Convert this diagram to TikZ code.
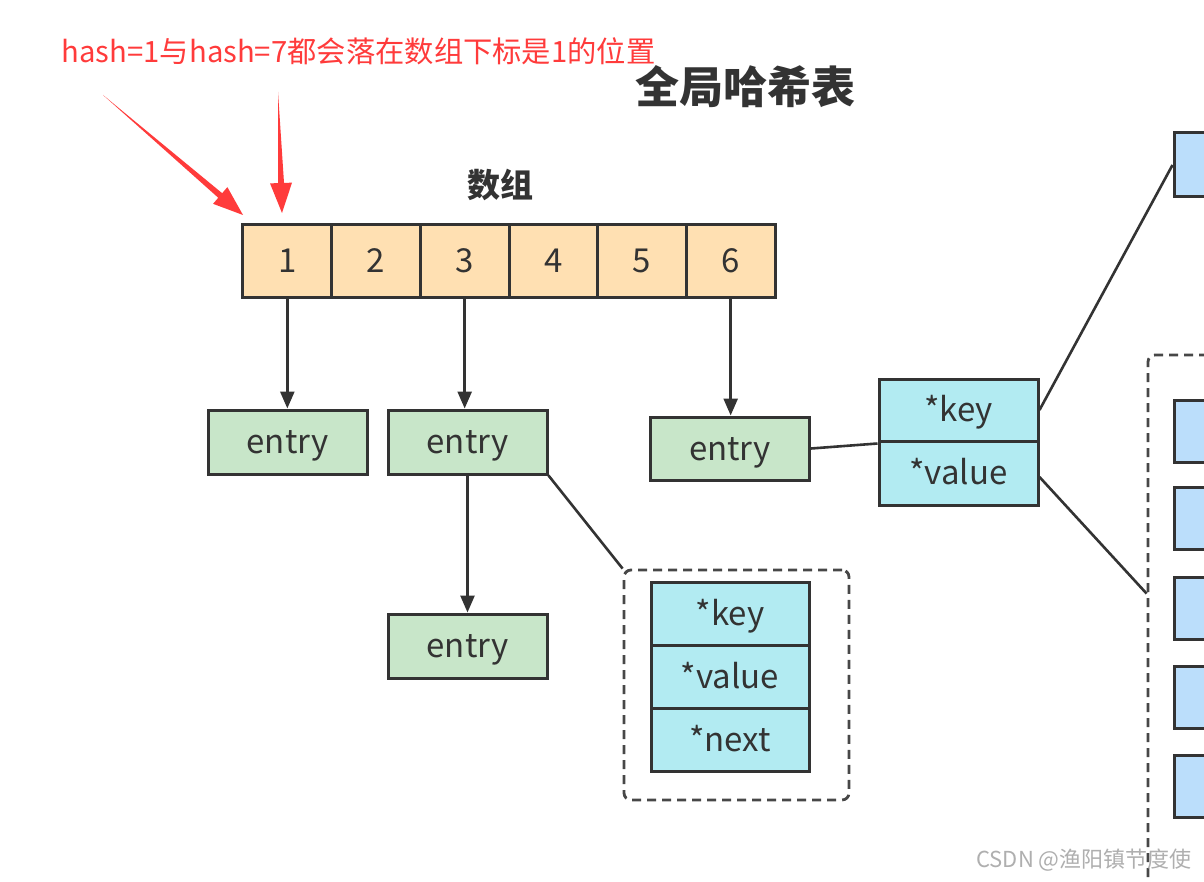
\documentclass[tikz,border=0pt]{standalone}
\usepackage{fontspec}
\setmainfont{Noto Sans CJK SC}
\usetikzlibrary{arrows.meta,calc}
\definecolor{peach}{RGB}{255,224,178}
\definecolor{mint}{RGB}{200,230,201}
\definecolor{cyanbox}{RGB}{178,235,242}
\definecolor{bluebox}{RGB}{187,222,251}
\definecolor{edge}{RGB}{51,51,51}
\definecolor{txt}{RGB}{51,51,51}
\definecolor{hred}{RGB}{255,59,59}
\definecolor{wm}{RGB}{175,175,175}
\tikzset{
  box/.style={draw=edge, line width=3pt, inner sep=0pt, text=txt, font=\fontsize{33}{38}\selectfont, text height=27pt, text depth=4pt},
  cell/.style={box, fill=peach, minimum width=88.67pt, minimum height=73pt},
  entrybox/.style={box, fill=mint, minimum width=159pt, minimum height=64pt},
  field/.style={box, fill=cyanbox, minimum width=158pt, minimum height=63pt},
  bluecell/.style={box, fill=bluebox, minimum width=66pt, minimum height=62pt},
  dashbox/.style={draw=edge!90, line width=2.8pt, dash pattern=on 9pt off 6pt, rounded corners=7pt, inner sep=0pt},
  conn/.style={draw=edge, line width=2.6pt},
  arr/.style={conn, -{Triangle[width=14pt,length=17pt]}},
}
\begin{document}
\begin{tikzpicture}[x=1pt,y=-1pt]
\useasboundingbox (0,0) rectangle (1204,882);
\fill[white] (0,0) rectangle (1204,882);
\clip (0,0) rectangle (1204,882);

% titles
\node[text=hred, font=\fontsize{29.3}{33}\selectfont] (note) at (358.5,51) {hash=1与hash=7都会落在数组下标是1的位置};
\node[text=txt, font=\fontsize{44}{50}\selectfont\bfseries] (title) at (745,87) {全局哈希表};
\node[text=txt, font=\fontsize{33}{38}\selectfont\bfseries] (arrlabel) at (500,185) {数组};

% array cells
\foreach \i/\x in {1/287.33,2/376,3/464.67,4/553.33,5/642,6/730.67}
  \node[cell] (c\i) at (\x,261.5) {\i};

% entries
\node[entrybox] (e1) at (287.5,442) {entry};
\node[entrybox] (e2) at (467.5,442) {entry};
\node[entrybox] (e3) at (467.5,646) {entry};
\node[entrybox, minimum height=63pt] (e4) at (730,448.5) {entry};

% dashed struct box
\node[dashbox, minimum width=225pt, minimum height=230pt] (d1) at (736.5,685) {};
\node[field] (k1) at (730,614) {*key};
\node[field] (v1) at (730,677) {*value};
\node[field] (n1) at (730,740) {*next};

% key-value box
\node[field, minimum width=159pt, minimum height=62pt] (k2) at (958.5,410) {*key};
\node[field, minimum width=159pt, minimum height=64pt] (v2) at (958.5,473) {*value};

% right side
\node[bluecell, minimum height=64pt] (top) at (1207,165) {};
\node[dashbox, minimum width=112pt, minimum height=565pt] (d2) at (1204,637.5) {};
\foreach \i/\y in {1/431,2/518.5,3/608.5,4/697.5,5/786.5}
  \node[bluecell] (r\i) at (1207,\y) {};

% connectors
\draw[arr] (c1.south) -- (c1.south |- e1.north);
\draw[arr] (c3.south) -- (c3.south |- e2.north);
\draw[arr] (c6.south) -- (c6.south |- e4.north);
\draw[arr] (e2.south) -- (e3.north);
\draw[conn] (e2.south east) -- (d1.north west);
\draw[conn] (e4.east) -- ([yshift=-4pt]v2.north west);
\draw[conn] (k2.east) -- (top.west);
\coordinate (d2in) at ($(d2.north west)+(0,240)$);
\draw[conn] ([yshift=-4pt]v2.east) -- (d2in);

% red arrows
\coordinate (t1) at (103,95);
\coordinate (h1) at (243,215);
\coordinate (t2) at (278,92);
\coordinate (h2) at (282,213);
\coordinate (b1) at ($(h1)!30pt!(t1)$);
\coordinate (b2) at ($(h2)!30pt!(t2)$);
\fill[hred] (t1) -- ($(b1)!3pt!90:(h1)$) -- ($(b1)!11pt!90:(h1)$) -- (h1)
  -- ($(b1)!11pt!-90:(h1)$) -- ($(b1)!3pt!-90:(h1)$) -- cycle;
\fill[hred] (t2) -- ($(b2)!3pt!90:(h2)$) -- ($(b2)!11pt!90:(h2)$) -- (h2)
  -- ($(b2)!11pt!-90:(h2)$) -- ($(b2)!3pt!-90:(h2)$) -- cycle;

% watermark
\node[text=wm, font=\fontsize{22}{26}\selectfont] (wmark) at (1084,860) {CSDN @渔阳镇节度使};
\end{tikzpicture}
\end{document}
